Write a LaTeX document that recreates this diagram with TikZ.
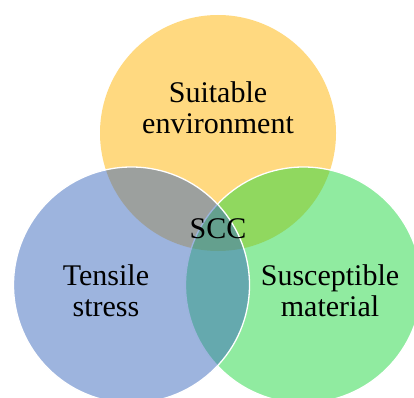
\documentclass[tikz,border=0pt]{standalone}
\usepackage{fontspec}
\setmainfont{Liberation Serif}
\definecolor{envyellow}{RGB}{255,179,1}
\definecolor{stressblue}{RGB}{59,105,189}
\definecolor{matgreen}{RGB}{33,215,65}
\tikzset{
  venn/.style={draw=white,line width=1.3pt,fill opacity=0.5},
  label/.style={inner sep=0pt,align=center,font=\fontsize{30}{31}\selectfont}
}

\begin{document}
\begin{tikzpicture}[x=1pt,y=1pt]
\useasboundingbox (0,0) rectangle (414,397);
% circles
\fill[envyellow,fill opacity=0.5] (218,264) circle (118);
\draw[venn,fill=matgreen] (303.5,112) circle (118);
\draw[venn,fill=stressblue] (131.5,112) circle (118);
%
% texts
\node[label] (env) at (218,289.5) {Suitable\\environment};
\node[label] (stress) at (106,106) {Tensile\\stress};
\node[label] (material) at (330,106) {Susceptible\\material};
\node[label,anchor=base] (scc) at (218,159) {SCC};
\end{tikzpicture}
\end{document}
